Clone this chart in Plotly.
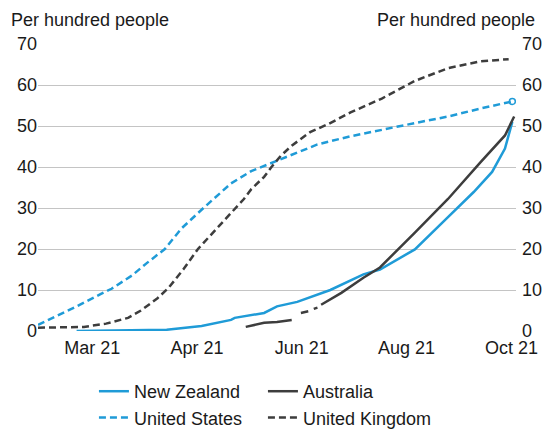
import plotly.graph_objects as go

# x values are day offsets along the chart's time axis
tick_vals = [29.5, 86.5, 143.5, 200.5, 257.5]
tick_text = ["Mar 21", "Apr 21", "Jun 21", "Aug 21", "Oct 21"]

nz_x = [21, 50, 70, 89, 105, 107, 123, 130, 141, 159, 177, 186, 205, 223, 237, 247, 254, 258]
nz_y = [0, 0.1, 0.3, 1.2, 2.7, 3.2, 4.4, 6, 7.1, 10, 13.8, 15, 19.9, 27.8, 33.9, 38.8, 44.5, 51]

au_x = [113, 123, 130, 138, None, 143, 147, None, 150, 152, None, 154, 160, 165, 177, 186, 205, 223, 241, 254, 259]
au_y = [1, 2, 2.2, 2.7, None, 4.4, 4.8, None, 5.4, 5.7, None, 6.4, 8, 9.3, 13, 15.5, 24, 32.2, 41.3, 47.7, 52.3]

us_x = [0, 7, 21, 34, 40, 51, 59, 69, 78, 90, 105, 116, 126, 138, 152, 170, 188, 206, 223, 241, 258]
us_y = [1.5, 3, 6, 9, 10.3, 13.5, 16.5, 20, 25, 30, 36, 39, 40.8, 43, 45.5, 47.5, 49.2, 50.8, 52.3, 54.3, 56]

uk_x = [0, 12, 25, 37, 49, 56, 65, 71, 79, 87, 98, 107, 112, 116, 123, 127, 132, 138, 148, 158, 170, 187, 205, 223, 241, 256]
uk_y = [0.8, 0.9, 1, 1.8, 3.2, 5, 8, 10.5, 15, 20, 25.3, 29.7, 32.2, 34.6, 37.6, 40, 42.7, 45.2, 48.5, 50.5, 53.3, 56.7, 61, 64.1, 65.8, 66.3]

BLUE = "#1f9bd7"
DARK = "#3d3d3d"
FONT = "Liberation Sans, Arial, sans-serif"
DASH = "7px,4px"

fig = go.Figure()
fig.add_trace(go.Scatter(x=nz_x, y=nz_y, mode="lines", name="New Zealand",
                         line=dict(color=BLUE, width=2.5)))
fig.add_trace(go.Scatter(x=au_x, y=au_y, mode="lines", name="Australia",
                         line=dict(color=DARK, width=2.5)))
fig.add_trace(go.Scatter(x=us_x, y=us_y, mode="lines", name="United States",
                         line=dict(color=BLUE, width=2.5, dash=DASH)))
fig.add_trace(go.Scatter(x=[us_x[-1]], y=[us_y[-1]], mode="markers", showlegend=False,
                         marker=dict(symbol="circle-open", size=6, color=BLUE, line=dict(width=1.5))))
fig.add_trace(go.Scatter(x=uk_x, y=uk_y, mode="lines", name="United Kingdom", yaxis="y2",
                         line=dict(color=DARK, width=2.5, dash=DASH)))

fig.update_layout(
    width=543, height=429,
    margin=dict(l=38, r=27, t=44, b=98),
    paper_bgcolor="white", plot_bgcolor="white",
    font=dict(family=FONT, size=18, color="#1a1a1a"),
    xaxis=dict(range=[0, 260], tickvals=tick_vals, ticktext=tick_text, automargin=False,
               showgrid=False, zeroline=False, showline=False, ticks="", ticklabelstandoff=4),
    yaxis=dict(range=[0, 70], dtick=10, showgrid=True, gridcolor="#c4c4c4", gridwidth=1,
               automargin=False, zeroline=False, showline=False, ticks=""),
    yaxis2=dict(range=[0, 70], dtick=10, overlaying="y", side="right", showgrid=False,
                automargin=False, zeroline=False, showline=False, ticks="", ticklabelstandoff=5),
    legend=dict(orientation="h", xref="container", yref="container",
                x=0.173, y=0.1305, xanchor="left", yanchor="top",
                entrywidth=124, tracegroupgap=0, font=dict(size=18)),
    showlegend=True,
    annotations=[
        dict(text="Per hundred people", xref="paper", yref="paper", x=-0.0607, y=1.0836,
             xanchor="left", yanchor="middle", showarrow=False, font=dict(size=18)),
        dict(text="Per hundred people", xref="paper", yref="paper", x=1.0439, y=1.0836,
             xanchor="right", yanchor="middle", showarrow=False, font=dict(size=18)),
    ],
)

fig.write_html(
    "out.html",
    config={"responsive": False, "displayModeBar": False},
    post_script="document.body.style.margin='0px';document.body.style.overflow='hidden';",
)
